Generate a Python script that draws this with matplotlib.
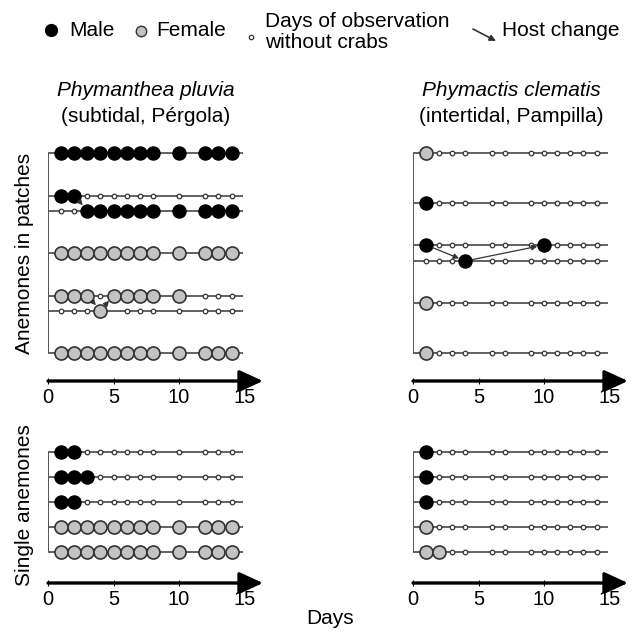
import matplotlib
matplotlib.use("Agg")
import matplotlib.pyplot as plt

plt.rcParams['font.family'] = ['Liberation Sans', 'DejaVu Sans']

W, H = 636, 641

# ---------------- data ----------------
obs_days_pluvia = [1, 2, 3, 4, 5, 6, 7, 8, 10, 12, 13, 14]
obs_days_clematis = [1, 2, 3, 4, 6, 7, 9, 10, 11, 12, 13, 14]

# state per observation day: M = male, F = female, o = no crab, - = not shown
pluvia_patch_anemone = [0, 1, 1, 2, 3, 3, 4]
pluvia_patch_side = [0, -1, 1, 0, -1, 1, 0]
pluvia_patch_states = [
    "MMMMMMMMMMMM",
    "MMoooooooooo",
    "ooMMMMMMMMMM",
    "FFFFFFFFFFFF",
    "FFFoFFFFFooo",
    "oooF-ooooooo",
    "FFFFFFFFFFFF",
]
pluvia_patch_moves = [(1, 2, 2, 3), (4, 3, 5, 4), (5, 4, 4, 5)]

clematis_patch_anemone = [0, 1, 2, 2, 3, 4]
clematis_patch_side = [0, 0, -1, 1, 0, 0]
clematis_patch_states = [
    "Fooooooooooo",
    "Mooooooooooo",
    "MooooooMoooo",
    "oooMoooooooo",
    "Fooooooooooo",
    "Fooooooooooo",
]
clematis_patch_moves = [(2, 1, 3, 4), (3, 4, 2, 10)]

pluvia_single_anemone = [0, 1, 2, 3, 4]
pluvia_single_side = [0, 0, 0, 0, 0]
pluvia_single_states = [
    "MMoooooooooo",
    "MMMooooooooo",
    "MMoooooooooo",
    "FFFFFFFFFFFF",
    "FFFFFFFFFFFF",
]

clematis_single_anemone = [0, 1, 2, 3, 4]
clematis_single_side = [0, 0, 0, 0, 0]
clematis_single_states = [
    "Mooooooooooo",
    "Mooooooooooo",
    "Mooooooooooo",
    "Fooooooooooo",
    "FFoooooooooo",
]

day_ticks = [0, 5, 10, 15]

# ---------------- style ----------------
LINE_C = '#555555'
FEM_C = '#c3c3c3'
EDGE_C = '#333333'
BIG_MS = 9.4
SMALL_MS = 3.3
FS = 15

fig = plt.figure(figsize=(W / 100, H / 100), dpi=100)


def box(x0, y0, x1, y1):
    return [x0 / W, 1 - y1 / H, (x1 - x0) / W, (y1 - y0) / H]


def panel(rect, ylim, days, anem, side, states, moves, pair_off):
    ax = fig.add_axes(rect)
    ax.set_xlim(0, 16.4)
    ax.set_ylim(*ylim)
    for s in ax.spines.values():
        s.set_visible(False)
    ys = [a + s * pair_off for a, s in zip(anem, side)]
    ax.vlines(0, min(ys), max(ys), color=LINE_C, lw=1.4, zorder=1)
    ax.hlines(ys, 0, 14.9, color=LINE_C, lw=1.3, zorder=1)
    for y, st in zip(ys, states):
        for d, c in zip(days, st):
            if c == 'M':
                ax.plot(d, y, 'o', ms=BIG_MS, mfc='black', mec='black', mew=1, zorder=3)
            elif c == 'F':
                ax.plot(d, y, 'o', ms=BIG_MS, mfc=FEM_C, mec=EDGE_C, mew=1.2, zorder=3)
            elif c == 'o':
                ax.plot(d, y, 'o', ms=SMALL_MS, mfc='white', mec=EDGE_C, mew=0.9, zorder=2)
    for (t0, d0, t1, d1) in moves:
        ax.annotate('', xy=(d1, ys[t1]), xytext=(d0, ys[t0]),
                    arrowprops=dict(arrowstyle='-|>', color='#333333', lw=0.9,
                                    shrinkA=5, shrinkB=5, mutation_scale=8),
                    zorder=4)
    ax.set_xticks(day_ticks)
    ax.set_xticklabels([str(t) for t in day_ticks])
    ax.tick_params(axis='x', direction='inout', length=5, width=0.8, pad=2.5,
                   labelsize=14.5, color='black')
    ax.set_yticks([])
    ax.annotate('', xy=(1, 0), xytext=(0, 0), xycoords='axes fraction',
                arrowprops=dict(arrowstyle='-|>,head_length=1.2,head_width=0.55',
                                lw=2.4, color='black', shrinkA=0, shrinkB=0,
                                mutation_scale=12))
    ax.patch.set_alpha(0)
    return ax


top_ylim = ((381 - 153) / 50, (140 - 153) / 50)
bot_ylim = ((583 - 452) / 25, (440 - 452) / 25)

panel(box(48, 140, 263, 381), top_ylim, obs_days_pluvia, pluvia_patch_anemone,
      pluvia_patch_side, pluvia_patch_states, pluvia_patch_moves, 0.15)
panel(box(413, 140, 628, 381), top_ylim, obs_days_clematis, clematis_patch_anemone,
      clematis_patch_side, clematis_patch_states, clematis_patch_moves, 0.16)
panel(box(48, 440, 263, 583), bot_ylim, obs_days_pluvia, pluvia_single_anemone,
      pluvia_single_side, pluvia_single_states, [], 0.15)
panel(box(413, 440, 628, 583), bot_ylim, obs_days_clematis, clematis_single_anemone,
      clematis_single_side, clematis_single_states, [], 0.15)

# titles
for cx, sp, site in [(146, 'Phymanthea pluvia', '(subtidal, Pérgola)'),
                     (511, 'Phymactis clematis', '(intertidal, Pampilla)')]:
    fig.text(cx / W, 1 - 91 / H, sp, style='italic', ha='center', va='center', fontsize=FS)
    fig.text(cx / W, 1 - 117 / H, site, ha='center', va='center', fontsize=FS)

fig.text(25 / W, 1 - 253 / H, 'Anemones in patches', rotation=90, ha='center', va='center', fontsize=FS)
fig.text(25 / W, 1 - 505 / H, 'Single anemones', rotation=90, ha='center', va='center', fontsize=FS)
fig.text(330 / W, 1 - 619 / H, 'Days', ha='center', va='center', fontsize=FS)

# legend
lax = fig.add_axes([0, 1 - 62 / H, 1, 62 / H])
lax.set_xlim(0, W)
lax.set_ylim(62, 0)
lax.axis('off')
lax.plot(51, 30, 'o', ms=8.5, mfc='black', mec='black')
lax.text(69, 30, 'Male', va='center', ha='left', fontsize=FS)
lax.plot(141, 31, 'o', ms=7.5, mfc=FEM_C, mec=EDGE_C, mew=1)
lax.text(156, 30, 'Female', va='center', ha='left', fontsize=FS)
lax.plot(251, 37, 'o', ms=3.2, mfc='white', mec=EDGE_C, mew=0.9)
lax.text(265, 32, 'Days of observation\nwithout crabs', va='center', ha='left',
         fontsize=FS, linespacing=1.15)
lax.annotate('', xy=(496, 41), xytext=(473, 29),
             arrowprops=dict(arrowstyle='-|>', color='#333333', lw=1.2,
                             shrinkA=0, shrinkB=0, mutation_scale=9))
lax.text(502, 30, 'Host change', va='center', ha='left', fontsize=FS)

fig.savefig('out.png', dpi=100)
